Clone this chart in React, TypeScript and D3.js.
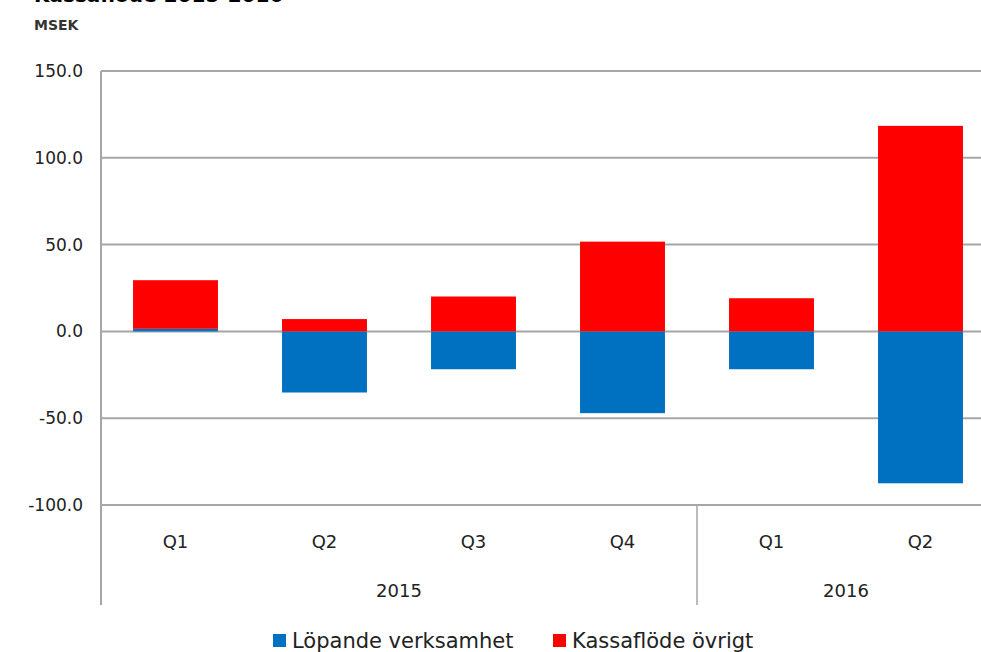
import * as d3 from "d3"
import React, { useEffect, useRef } from "react"

const quarters = ["Q1", "Q2", "Q3", "Q4", "Q1", "Q2"]
const years = ["2015", "2015", "2015", "2015", "2016", "2016"]
const lopande = [1.5, -35.2, -21.8, -47.1, -21.8, -87.5]
const ovrigt = [28, 7.1, 20.1, 51.7, 19.1, 118.4]
const yTicks = [150, 100, 50, 0, -50, -100]
const seriesNames = ["Löpande verksamhet", "Kassaflöde övrigt"]
const colors = ["#0070c0", "#ff0000"]

const width = 981
const height = 652
const margin = { left: 101, top: 71, plotRight: 995, bottom: 505 }
const font = "Tahoma, 'DejaVu Sans', sans-serif"

const App = () => {
  const ref = useRef(null)

  useEffect(() => {
    const svg = d3.select(ref.current)
    svg.selectAll("*").remove()

    const rows = quarters.map((q, i) => ({ key: i, lop: lopande[i], ovr: ovrigt[i] }))

    const x = d3
      .scaleBand()
      .domain(rows.map((d) => String(d.key)))
      .range([margin.left, margin.plotRight])
      .padding(0)

    const y = d3.scaleLinear().domain([-100, 150]).range([margin.bottom, margin.top])

    // title, cut off at the top like the source
    svg
      .append("text")
      .attr("x", 34)
      .attr("y", 2)
      .attr("font-family", font)
      .attr("font-weight", "bold")
      .attr("font-size", 20)
      .attr("fill", "#000")
      .text("Kassaflöde 2015-2016")

    svg
      .append("text")
      .attr("x", 34)
      .attr("y", 30)
      .attr("font-family", font)
      .attr("font-size", 14)
      .attr("font-weight", "bold")
      .attr("fill", "#333")
      .text("MSEK")

    // grid
    svg
      .append("g")
      .selectAll("line")
      .data(yTicks)
      .join("line")
      .attr("x1", margin.left)
      .attr("x2", width)
      .attr("y1", (d) => y(d))
      .attr("y2", (d) => y(d))
      .attr("stroke", "#a6a6a6")
      .attr("stroke-width", 2)

    svg
      .append("g")
      .selectAll("text")
      .data(yTicks)
      .join("text")
      .attr("x", 83)
      .attr("y", (d) => y(d) + 6)
      .attr("text-anchor", "end")
      .attr("font-family", font)
      .attr("font-size", 17)
      .attr("fill", "#222")
      .text((d) => d3.format(".1f")(d).replace("\u2212", "-"))

    // stacked bars
    const stack = d3
      .stack()
      .keys(["lop", "ovr"])
      .offset(d3.stackOffsetDiverging)
    const layers = stack(rows)
    const barW = x.bandwidth() * 0.57

    svg
      .append("g")
      .selectAll("g")
      .data(layers)
      .join("g")
      .attr("fill", (d, i) => colors[i])
      .selectAll("rect")
      .data((d) => d)
      .join("rect")
      .attr("x", (d) => x(String(d.data.key)) + (x.bandwidth() - barW) / 2)
      .attr("width", barW)
      .attr("y", (d) => y(Math.max(d[0], d[1])))
      .attr("height", (d) => Math.abs(y(d[0]) - y(d[1])))

    // axes
    svg
      .append("line")
      .attr("x1", margin.left)
      .attr("x2", margin.left)
      .attr("y1", margin.top)
      .attr("y2", 605)
      .attr("stroke", "#a6a6a6")
      .attr("stroke-width", 2)

    const yearGroups = d3.groups(rows, (d) => years[d.key])
    yearGroups.forEach(([yr, g], gi) => {
      const x0 = x(String(g[0].key))
      const x1 = x(String(g[g.length - 1].key)) + x.bandwidth()
      if (gi > 0) {
        svg
          .append("line")
          .attr("x1", x0)
          .attr("x2", x0)
          .attr("y1", margin.bottom)
          .attr("y2", 605)
          .attr("stroke", "#a6a6a6")
          .attr("stroke-width", 1.5)
      }
      svg
        .append("text")
        .attr("x", (x0 + x1) / 2)
        .attr("y", 597)
        .attr("text-anchor", "middle")
        .attr("font-family", font)
        .attr("font-size", 18)
        .attr("fill", "#222")
        .text(yr)
    })

    svg
      .append("g")
      .selectAll("text")
      .data(rows)
      .join("text")
      .attr("x", (d) => x(String(d.key)) + x.bandwidth() / 2)
      .attr("y", 548)
      .attr("text-anchor", "middle")
      .attr("font-family", font)
      .attr("font-size", 18)
      .attr("fill", "#222")
      .text((d) => quarters[d.key])

    // legend
    const legendX = [273, 553]
    const legend = svg
      .append("g")
      .selectAll("g")
      .data(seriesNames)
      .join("g")
      .attr("transform", (d, i) => "translate(" + legendX[i] + ",634)")
    legend
      .append("rect")
      .attr("width", 13)
      .attr("height", 13)
      .attr("fill", (d, i) => colors[i])
    legend
      .append("text")
      .attr("x", 19)
      .attr("y", 14)
      .attr("font-family", font)
      .attr("font-size", 21)
      .attr("fill", "#222")
      .text((d) => d)
  }, [])

  return (
    <svg
      ref={ref}
      width={width}
      height={height}
      viewBox={`0 0 ${width} ${height}`}
      style={{ position: "absolute", left: 0, top: 0, background: "#fff" }}
    />
  )
}

export default App
